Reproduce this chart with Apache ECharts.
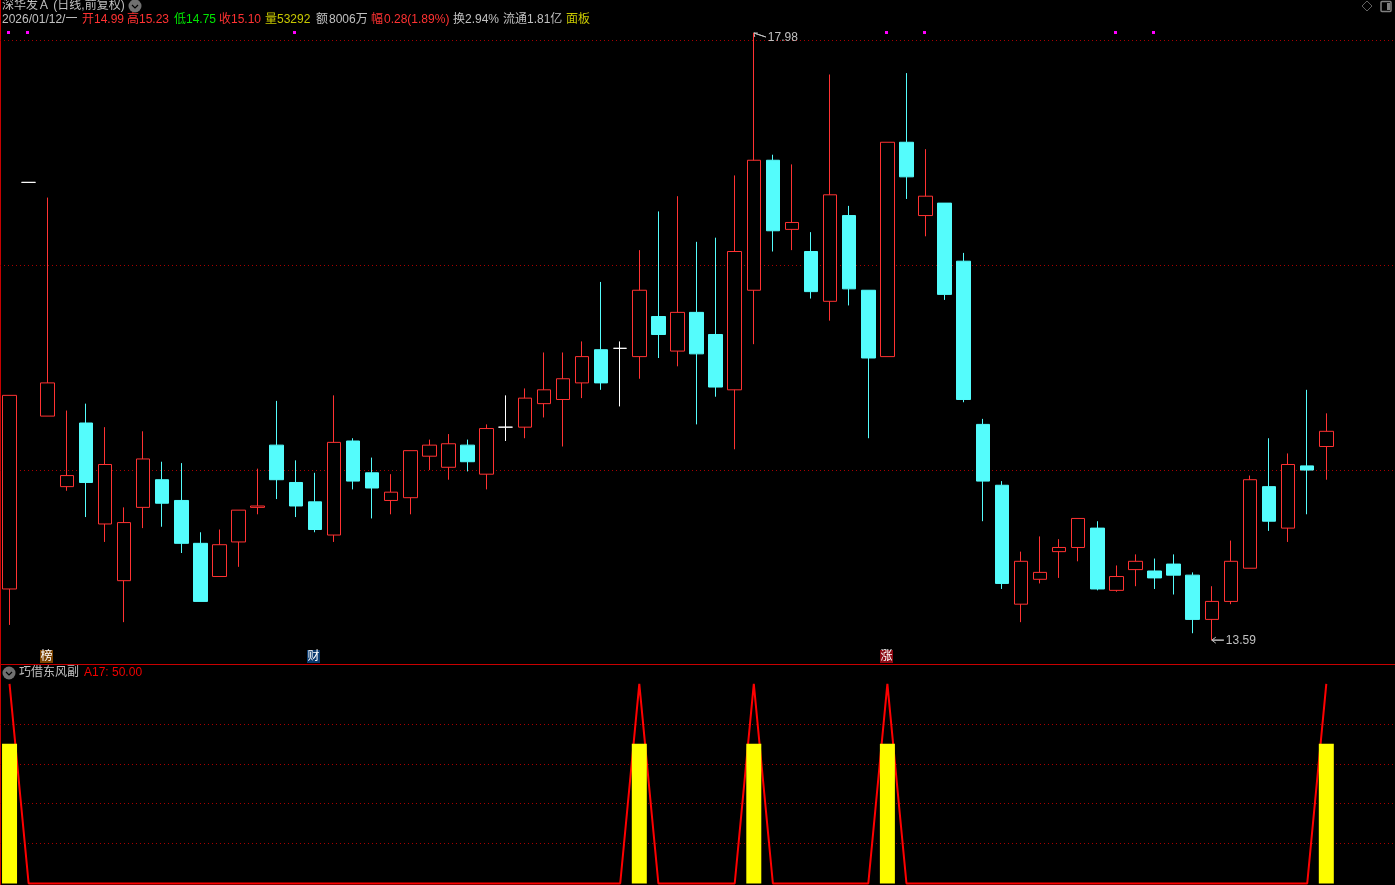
<!DOCTYPE html>
<html>
<head>
<meta charset="utf-8">
<title>深华发A</title>
<style>
html, body { margin: 0; padding: 0; background: #000; }
#chart { width: 1395px; height: 885px; }
</style>
<script src="https://cdn.jsdelivr.net/npm/echarts@6/dist/echarts.min.js"></script>
</head>
<body>
<div id="chart"></div>
<script>
// open, close, low, high
const candleValues = [
  [13.96,15.36,13.70,15.36],[16.90,16.90,16.90,16.90],[15.21,15.45,15.21,16.79],[14.70,14.78,14.67,15.25],
  [15.16,14.73,14.48,15.30],[14.43,14.86,14.30,15.13],[14.02,14.44,13.72,14.55],[14.55,14.90,14.40,15.10],
  [14.75,14.58,14.41,14.88],[14.60,14.29,14.22,14.87],[14.29,13.87,13.87,14.37],[14.05,14.28,14.05,14.39],
  [14.30,14.53,14.12,14.53],[14.55,14.56,14.50,14.83],[15.00,14.75,14.61,15.32],[14.73,14.56,14.48,14.89],
  [14.59,14.39,14.37,14.80],[14.35,15.02,14.30,15.36],[15.03,14.74,14.68,15.05],[14.80,14.69,14.47,14.91],
  [14.60,14.66,14.50,14.79],[14.62,14.96,14.50,14.96],[14.92,15.00,14.82,15.04],[14.84,15.01,14.75,15.08],
  [15.00,14.88,14.81,15.04],[14.79,15.12,14.68,15.15],[15.13,15.13,15.03,15.36],[15.13,15.34,15.05,15.41],
  [15.30,15.40,15.20,15.67],[15.33,15.48,14.99,15.67],[15.45,15.64,15.34,15.75],[15.69,15.45,15.40,16.18],
  [15.70,15.70,15.28,15.75],[15.64,16.12,15.48,16.41],[15.93,15.80,15.63,16.69],[15.68,15.96,15.57,16.80],
  [15.96,15.66,15.15,16.47],[15.80,15.42,15.35,16.50],[15.40,16.40,14.97,16.95],[16.12,17.06,15.73,17.98],
  [17.06,16.55,16.40,17.10],[16.56,16.61,16.41,17.03],[16.40,16.11,16.06,16.54],[16.04,16.81,15.90,17.68],
  [16.66,16.13,16.01,16.73],[16.12,15.63,15.05,16.12],[15.64,17.19,15.64,17.19],[17.19,16.94,16.78,17.69],
  [16.66,16.80,16.51,17.14],[16.75,16.09,16.05,16.75],[16.33,15.33,15.31,16.39],[15.15,14.74,14.45,15.19],
  [14.71,14.00,13.96,14.74],[13.85,14.16,13.72,14.23],[14.03,14.08,14.00,14.34],[14.23,14.26,14.04,14.32],
  [14.26,14.47,14.16,14.47],[14.40,13.96,13.95,14.45],[13.95,14.05,13.94,14.13],[14.10,14.16,13.98,14.21],
  [14.09,14.04,13.96,14.18],[14.14,14.06,13.92,14.21],[14.06,13.74,13.64,14.08],[13.74,13.87,13.59,13.98],
  [13.87,14.16,13.85,14.31],[14.11,14.75,14.11,14.78],[14.70,14.45,14.38,15.05],[14.40,14.86,14.30,14.94],
  [14.85,14.82,14.50,15.40],[14.99,15.10,14.75,15.23]
]
const blankSlots = ['', '', '']
const categories = candleValues.map((_, i) => String(i)).concat(blankSlots)

const priceMin = 13.4175
const priceMax = 18.2186
const priceLevels = [14.817, 16.299, 17.926]

const signalIndexes = [0, 1, 15, 46, 48, 58, 60]
const signalPrice = 17.99
const eventIndexes = [2, 16, 46]
const eventNames = ['榜', '财', '涨']
const eventPrice = 13.47
const extremeIndexes = [39, 63]
const extremePrices = [17.98, 13.59]

const signalBars = [0, 33, 39, 46, 69]
const barValue = 50
const linePeak = 71.4
const subMax = 78.15
const subLevels = [14.31, 28.61, 42.56, 56.87]

const titleText = '深华发Ａ (日线,前复权)'
const dateText = '2026/01/12/一'
const quoteLabels = ['开', '14.99', '高', '15.23', '低', '14.75', '收', '15.10', '量', '53292', '额', '8006万', '幅', '0.28(1.89%)', '换', '2.94%', '流通', '1.81亿', '面板']
const subTitle = '巧借东风副'
const subValue = 'A17: 50.00'

const UP = '#ff3232'
const DOWN = '#54fcfc'
const GRID_RED = '#a80000'
const AXIS_RED = '#c80000'
const TEXT_GREY = '#c0c0c0'
const FONT = '"Liberation Sans", "Noto Sans CJK SC", sans-serif'
const EVENT_COLORS = ['#7a4200', '#0a3a6e', '#8c0a14']

const quoteX = [82, 94, 127, 139, 174, 186, 219, 231, 265, 277, 316, 329, 371, 384, 453, 465, 503, 527, 566]
const quoteColors = ['#ff3232', '#ff3232', '#ff3232', '#ff3232', '#00e600', '#00e600', '#ff3232', '#ff3232', '#c8c800', '#c8c800', TEXT_GREY, TEXT_GREY, '#ff3232', '#ff3232', TEXT_GREY, TEXT_GREY, TEXT_GREY, TEXT_GREY, '#c8c800']

function label(text, x, y, fill) {
  return { type: 'text', x, y, silent: true, style: { text, fill, font: '12px ' + FONT, textVerticalAlign: 'middle' } }
}

function chevronIcon(cx, cy) {
  return [
    { type: 'circle', shape: { cx, cy, r: 6.5 }, style: { fill: '#707070' } },
    { type: 'polyline', shape: { points: [[cx - 3, cy - 1], [cx, cy + 2], [cx + 3, cy - 1]] }, style: { fill: null, stroke: '#000', lineWidth: 1.2 } }
  ]
}

const lineValues = categories.map((_, i) => {
  if (i >= candleValues.length) return null
  return signalBars.includes(i) ? linePeak : 0
})
const barValues = categories.map((_, i) => (signalBars.includes(i) ? barValue : null))

const chart = echarts.init(document.getElementById('chart'), null, { renderer: 'canvas' })

const option = {
  backgroundColor: '#000',
  animation: false,
  grid: [
    { left: -0.25, width: 1393.35, top: 0, height: 664 },
    { left: -0.25, width: 1393.35, top: 665, height: 218.5 }
  ],
  xAxis: [
    {
      type: 'category', gridIndex: 0, data: categories,
      axisLine: { show: false }, axisTick: { show: false }, axisLabel: { show: false }, splitLine: { show: false }
    },
    {
      type: 'category', gridIndex: 1, data: categories,
      axisLine: { show: false }, axisTick: { show: false }, axisLabel: { show: false }, splitLine: { show: false }
    }
  ],
  yAxis: [
    {
      type: 'value', gridIndex: 0, min: priceMin, max: priceMax, scale: true,
      axisLine: { show: false },
      axisTick: { show: false, customValues: priceLevels },
      axisLabel: { show: false, customValues: priceLevels },
      splitLine: { show: true, lineStyle: { color: GRID_RED, type: [1, 3] } }
    },
    {
      type: 'value', gridIndex: 1, min: 0, max: subMax,
      axisLine: { show: false },
      axisTick: { show: false, customValues: subLevels },
      axisLabel: { show: false, customValues: subLevels },
      splitLine: { show: true, lineStyle: { color: GRID_RED, type: [1, 3] } }
    }
  ],
  series: [
    {
      type: 'candlestick', xAxisIndex: 0, yAxisIndex: 0, data: candleValues, barWidth: 14,
      itemStyle: {
        color: '#000', color0: DOWN, borderColor: UP, borderColor0: DOWN, borderColorDoji: '#fff', borderWidth: 1
      }
    },
    {
      // magenta signal dots, snapped to whole pixels so they stay crisp
      type: 'custom', xAxisIndex: 0, yAxisIndex: 0, clip: false,
      data: signalIndexes.map(i => [i, signalPrice]),
      renderItem: (params, api) => {
        const pt = api.coord([api.value(0), api.value(1)])
        return {
          type: 'rect',
          shape: { x: Math.floor(pt[0]) - 2, y: Math.round(pt[1]) - 1, width: 3, height: 3 },
          style: { fill: '#ff00ff' }
        }
      }
    },
    {
      type: 'custom', xAxisIndex: 0, yAxisIndex: 0, clip: false,
      data: eventIndexes.map(i => [i, eventPrice]),
      renderItem: (params, api) => {
        const pt = api.coord([api.value(0), api.value(1)])
        const x = Math.floor(pt[0]) - 7
        const y = Math.round(pt[1]) - 7
        return {
          type: 'group',
          children: [
            { type: 'rect', shape: { x, y, width: 13, height: 13 }, style: { fill: EVENT_COLORS[params.dataIndex] } },
            {
              type: 'text', x: x + 6.5, y: y + 6.5,
              style: { text: eventNames[params.dataIndex], fill: '#fff', font: '12px ' + FONT, textAlign: 'center', textVerticalAlign: 'middle' }
            }
          ]
        }
      }
    },
    {
      type: 'custom', xAxisIndex: 0, yAxisIndex: 0, clip: false,
      data: extremeIndexes.map((i, k) => [i, extremePrices[k]]),
      renderItem: (params, api) => {
        const pt = api.coord([api.value(0), api.value(1)])
        const isHigh = params.dataIndex === 0
        const tip = isHigh ? [pt[0] + 12, pt[1] + 4] : [pt[0] + 12, pt[1]]
        const hook = isHigh
          ? [[pt[0] + 4, pt[1]], pt, tip, pt, [pt[0] + 1, pt[1] + 4]]
          : [[pt[0] + 4, pt[1] - 3], pt, tip, pt, [pt[0] + 4, pt[1] + 3]]
        return {
          type: 'group',
          children: [
            { type: 'polyline', shape: { points: hook }, style: { fill: null, stroke: TEXT_GREY, lineWidth: 1 } },
            {
              type: 'text', x: pt[0] + 14, y: pt[1] + (isHigh ? 5 : 1),
              style: { text: api.value(1).toFixed(2), fill: TEXT_GREY, font: '12px ' + FONT, textVerticalAlign: 'middle' }
            }
          ]
        }
      }
    },
    {
      type: 'line', xAxisIndex: 1, yAxisIndex: 1, data: lineValues, clip: false, z: 2,
      symbol: 'none', lineStyle: { color: '#ff0000', width: 2 }
    },
    {
      type: 'bar', xAxisIndex: 1, yAxisIndex: 1, data: barValues, barWidth: 15, z: 3,
      itemStyle: { color: '#ffff00' }
    }
  ],
  graphic: [
    { type: 'rect', shape: { x: 0, y: 0, width: 1, height: 885 }, style: { fill: AXIS_RED } },
    { type: 'rect', shape: { x: 0, y: 664, width: 1395, height: 1 }, style: { fill: AXIS_RED } },
    label(titleText, 2, 6, TEXT_GREY),
    ...chevronIcon(135, 6),
    label(dateText, 2, 20, TEXT_GREY),
    ...quoteLabels.map((t, i) => label(t, quoteX[i], 20, quoteColors[i])),
    ...chevronIcon(9, 673),
    label(subTitle, 19, 673, TEXT_GREY),
    label(subValue, 84, 673, '#f00000'),
    { type: 'polygon', shape: { points: [[1367, 1], [1372, 6], [1367, 11], [1362, 6]] }, style: { fill: null, stroke: '#606060', lineWidth: 1 } },
    { type: 'rect', shape: { x: 1381, y: 1.5, width: 10, height: 10, r: 1 }, style: { fill: null, stroke: '#808080', lineWidth: 1.5 } },
    { type: 'rect', shape: { x: 1387, y: 3, width: 3, height: 7 }, style: { fill: '#808080' } }
  ]
}
chart.setOption(option)
</script>
</body>
</html>
